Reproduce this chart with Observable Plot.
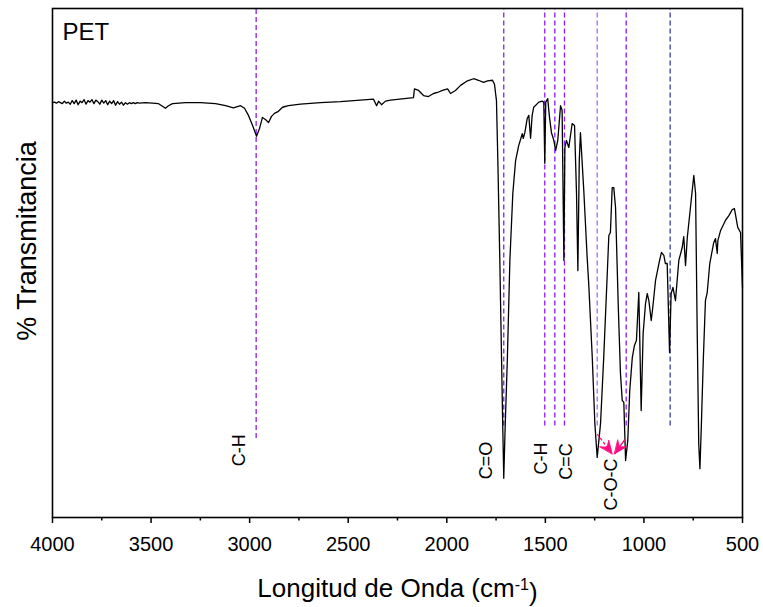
<!DOCTYPE html>
<html>
<head>
<meta charset="utf-8">
<script src="https://cdn.jsdelivr.net/npm/d3@7"></script>
<script src="https://cdn.jsdelivr.net/npm/@observablehq/plot@0.6"></script>
<style>
  html, body { margin: 0; padding: 0; background: #fff; }
</style>
</head>
<body>
<div id="chart"></div>
<script>
const wavenumber = [4000,3990,3980,3970,3960,3950,3940,3930,3920,3910,3900,3890,3880,3870,3860,3850,3840,3830,3820,3810,3800,3790,3780,3770,3760,3750,3740,3730,3720,3710,3700,3690,3680,3670,3660,3650,3640,3630,3620,3610,3600,3590,3580,3570,3560,3528,3493,3462,3442,3427,3412,3391,3325,3249,3173,3122,3082,3046,3026,3006,2985,2965,2950,2935,2920,2904,2889,2874,2854,2833,2803,2742,2641,2539,2372,2356,2346,2331,2311,2285,2169,2164,2143,2118,2093,2067,2047,2022,1996,1981,1956,1930,1895,1864,1839,1814,1793,1768,1758,1748,1741,1731,1722,1716,1711,1704,1693,1680,1665,1651,1635,1617,1612,1604,1592,1584,1575,1567,1559,1533,1516,1508,1503,1498,1488,1479,1469,1457,1448,1437,1423,1415,1406,1401,1393,1381,1364,1352,1342,1335,1328,1322,1305,1288,1280,1262,1249,1237,1220,1204,1186,1178,1170,1161,1153,1144,1130,1119,1110,1102,1093,1082,1072,1059,1048,1038,1026,1021,1014,1004,992,983,975,963,955,941,924,911,899,891,882,870,862,853,840,823,806,798,789,780,764,747,738,730,722,716,709,699,688,679,666,646,637,628,625,611,586,569,552,541,524,510,500];
const transmittance = [81.5,81.6,81.4,81.7,81.5,81.3,81.8,81.4,81.6,81.2,81.9,81.3,82.0,81.1,81.8,81.5,82.1,81.2,81.9,81.6,82.1,81.3,82.0,81.7,81.2,82.0,81.4,81.9,81.1,81.8,81.3,81.9,81.0,81.7,81.2,81.6,81.0,81.5,81.2,81.5,81.3,81.5,81.3,81.5,81.4,81.5,81.4,81.3,80.8,80.4,80.9,81.3,81.5,81.5,81.3,80.9,80.5,80.9,80.4,79.0,77.0,74.9,76.4,78.6,78.2,77.6,78.8,79.4,79.8,80.6,80.9,81.2,81.5,81.7,82.2,80.9,81.8,81.1,81.8,82.0,82.5,84.2,83.9,82.9,82.7,83.3,83.5,83.9,84.2,83.3,83.9,84.9,85.8,86.2,85.9,85.5,85.8,85.9,85.1,81.9,70.1,50.5,30.8,17.7,7.7,17.7,30.8,50.5,63.7,70.1,73.1,75.4,74.5,75.6,78.4,79.0,74.5,79.0,80.6,81.6,81.8,81.6,69.6,81.6,82.3,78.6,75.6,74.1,72.1,74.1,80.9,80.0,50.5,72.7,74.1,72.7,77.4,77.0,63.7,48.5,70.1,75.6,64.2,51.1,45.9,31.4,18.5,11.8,18.5,31.4,47.9,55.4,56.0,64.8,64.8,60.9,41.3,28.3,23.0,22.6,11.2,15.1,24.9,31.4,33.8,34.8,44.2,34.8,21.0,36.2,42.0,44.0,42.6,38.7,41.3,46.6,49.9,52.1,51.5,49.9,49.9,32.4,44.0,45.2,42.6,50.5,53.0,55.2,49.5,55.0,60.9,67.2,63.7,37.3,14.5,9.6,17.7,30.8,42.6,44.2,49.9,54.0,54.8,51.9,54.4,56.4,58.4,59.3,60.5,60.7,57.0,56.0,45.2];

// Band markers (dashed guide lines)
const bandWavenumber = [2967, 1711, 1503, 1452, 1403, 1237, 1090, 867];
const bandLowerT = [15.5, 18, 18, 18, 18, 18, 18, 18];

// Band labels
const labelText = ["C-H", "C=O", "C-H", "C=C", "C-O-C"];
const labelWavenumber = [3051, 1798, 1520, 1393, 1164];
const labelT = [13.2, 11.2, 11.6, 11.0, 6.5];

// C-O-C arrows (tail and tip in data units)
const arrowTailW = [1237, 1097];
const arrowTailT = [16.4, 15.3];
const arrowTipW = [1161, 1149];
const arrowTipT = [12.5, 12.5];

// Axis ticks
const xTicks = [4000, 3500, 3000, 2500, 2000, 1500, 1000, 500];
const xMinorTicks = [3750, 3250, 2750, 2250, 1750, 1250, 750];

const sampleName = "PET";
const xTitle = "Longitud de Onda (cm";
const yTitle = "% Transmitancia";

// ---- Build tables ----
const spectrum = wavenumber.map((w, i) => ({w, t: transmittance[i]}));
const bands = bandWavenumber.map((w, i) => ({w, lo: bandLowerT[i], i}));
const labels = labelText.map((s, i) => ({s, w: labelWavenumber[i], t: labelT[i]}));
const arrows = arrowTailW.map((w, i) => ({w1: w, t1: arrowTailT[i], w2: arrowTipW[i], t2: arrowTipT[i], i}));

const bandColor = (d) => d.w === 1237 ? "#b266ff" : d.w === 867 ? "#3a3aa0" : "#8a1aff";
const PINK = "#ff0a80";

// notched, filled arrow head for Plot.vector
const headShape = {
  draw(ctx, l) {
    const w = 5.5, h = 13;
    ctx.moveTo(0, -l);
    ctx.lineTo(-w, -l + h);
    ctx.lineTo(0, -l + h * 0.65);
    ctx.lineTo(w, -l + h);
    ctx.closePath();
  }
};

const font = "'Liberation Sans', Arial, Helvetica, sans-serif";

function build(useVector) {
  const marks = [
    Plot.ruleX(bands, {x: "w", y1: "lo", y2: 100, stroke: bandColor, strokeWidth: 1.3, strokeDasharray: "5,3"}),
    Plot.line(spectrum, {x: "w", y: "t", stroke: "black", strokeWidth: 1.3}),
    Plot.frame({stroke: "black", strokeWidth: 1.6}),
    Plot.axisX({ticks: xTicks, tickSize: 6, tickPadding: 13, fontSize: 20, label: null, tickFormat: d => String(d), strokeWidth: 1.5}),
    Plot.axisX({ticks: xMinorTicks, tickSize: 3.5, tickPadding: 0, label: null, tickFormat: () => "", strokeWidth: 1.5}),
    Plot.text(labels, {x: "w", y: "t", text: "s", rotate: -90, fontSize: 18, textAnchor: "middle", lineAnchor: "middle", fill: "black"}),
    Plot.text([sampleName], {frameAnchor: "top-left", text: d => d, dx: 10, dy: 14, fontSize: 24, textAnchor: "start", lineAnchor: "top"}),
    Plot.text([yTitle], {frameAnchor: "left", text: d => d, rotate: -90, dx: -25, dy: -22, fontSize: 27, textAnchor: "middle", lineAnchor: "middle"}),
    Plot.text([xTitle], {frameAnchor: "bottom", text: d => d, dy: 71, fontSize: 26, textAnchor: "middle", lineAnchor: "middle"}),
    Plot.link(arrows.filter(d => d.i === 0), {x1: "w1", y1: "t1", x2: "w2", y2: "t2", stroke: PINK, strokeWidth: 1.3, strokeDasharray: "3,2"}),
    Plot.link(arrows.filter(d => d.i === 1), {x1: "w1", y1: "t1", x2: "w2", y2: "t2", stroke: PINK, strokeWidth: 1.5})
  ];
  if (useVector) {
    marks.push(Plot.vector(arrows, {x: "w2", y: "t2", length: 14, anchor: "end",
      rotate: d => d.i === 0 ? 143 : 216, shape: headShape, fill: PINK, stroke: PINK, strokeWidth: 0.8}));
  } else {
    marks.push(Plot.arrow(arrows, {x1: "w1", y1: "t1", x2: "w2", y2: "t2", stroke: PINK, strokeWidth: 2, headLength: 12}));
  }
  return Plot.plot({
    width: 763, height: 607,
    marginLeft: 52, marginRight: 21, marginTop: 8, marginBottom: 90,
    x: {domain: [4000, 500], axis: null},
    y: {domain: [0, 100], axis: null},
    style: {fontFamily: font, background: "white", color: "black", overflow: "visible"},
    marks
  });
}

let chart;
try { chart = build(true); } catch (e) { chart = build(false); }
document.getElementById("chart").appendChild(chart);

// superscript in the x-axis title
d3.select(chart).selectAll("text").each(function() {
  if (this.textContent === xTitle) {
    const t = d3.select(this);
    t.append("tspan").attr("dy", "-0.45em").attr("font-size", "0.62em").text("-1");
    t.append("tspan").attr("dy", "0.45em").attr("font-size", "1em").text(")");
  }
});
</script>
</body>
</html>
